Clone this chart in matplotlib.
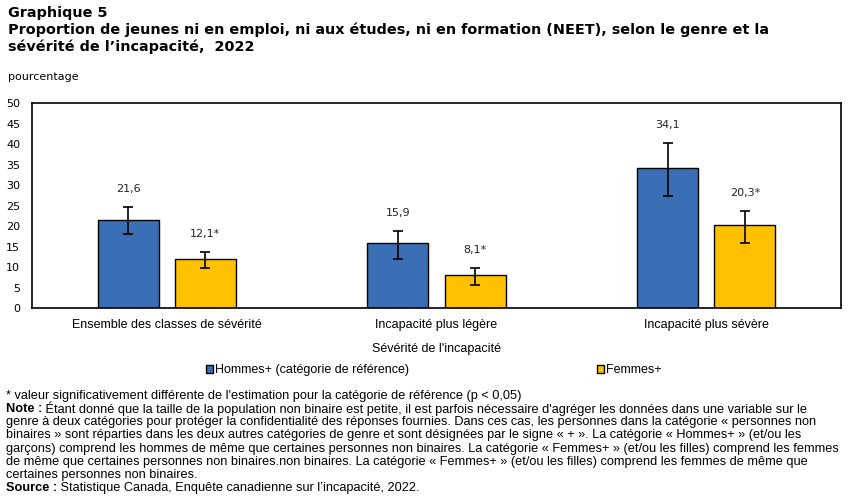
import matplotlib
matplotlib.use("Agg")
import matplotlib.pyplot as plt
import numpy as np

# data
categories = ["Ensemble des classes de sévérité",
              "Incapacité plus légère",
              "Incapacité plus sévère"]
hommes = [21.6, 15.9, 34.1]
hommes_low = [18.0, 11.9, 27.5]
hommes_high = [24.6, 18.9, 40.2]
femmes = [12.1, 8.1, 20.3]
femmes_low = [9.9, 5.8, 16.0]
femmes_high = [13.8, 9.9, 23.8]
femmes_signif = [True, True, True]
yticks = list(range(0, 51, 5))

blue = "#3B6FB5"
yellow = "#FFC000"

fig = plt.figure(figsize=(8.51, 4.99), dpi=100)
ax = fig.add_axes([0.0376, 0.3822, 0.9507, 0.4108])

x = np.arange(len(categories))
w = 0.226
off = 0.143

h = np.array(hommes)
f = np.array(femmes)
h_err = [h - np.array(hommes_low), np.array(hommes_high) - h]
f_err = [f - np.array(femmes_low), np.array(femmes_high) - f]

ax.bar(x - off, h, w, color=blue, edgecolor="black", linewidth=1,
       yerr=h_err, capsize=3.5, error_kw={"elinewidth": 1.2, "capthick": 1.2},
       label="Hommes+ (catégorie de référence)")
ax.bar(x + off, f, w, color=yellow, edgecolor="black", linewidth=1,
       yerr=f_err, capsize=3.5, error_kw={"elinewidth": 1.2, "capthick": 1.2},
       label="Femmes+")

# value labels above the error bars
for i in range(len(categories)):
    ax.annotate(("%.1f" % hommes[i]).replace(".", ","), (x[i] - off, hommes_high[i]),
                xytext=(0, 13), textcoords="offset points", ha="center", va="center",
                fontsize=8, family="DejaVu Sans", color="#222222")
    lab = ("%.1f" % femmes[i]).replace(".", ",") + ("*" if femmes_signif[i] else "")
    ax.annotate(lab, (x[i] + off, femmes_high[i]),
                xytext=(0, 13), textcoords="offset points", ha="center", va="center",
                fontsize=8, family="DejaVu Sans", color="#222222")

ax.set_xlim(-0.5, 2.5)
ax.set_ylim(0, 50)
ax.set_yticks(yticks)
ax.set_yticklabels([str(t) for t in yticks], fontsize=8, family="DejaVu Sans")
ax.set_xticks(x)
ax.set_xticklabels(categories, fontsize=9, family="Liberation Sans")
ax.tick_params(length=0, pad=8)
ax.tick_params(axis="y", pad=8.5)
for s in ax.spines.values():
    s.set_linewidth(1.2)
ax.set_xlabel("Sévérité de l'incapacité", fontsize=9, family="Liberation Sans", labelpad=8)

fig.legend(loc="center", bbox_to_anchor=(0.510, 0.258), ncol=2, frameon=False,
           prop={"family": "Liberation Sans", "size": 9}, handlelength=0.55,
           handleheight=0.55, handletextpad=0.2, columnspacing=15)

# titles
fig.text(0.009, 0.988, "Graphique 5\nProportion de jeunes ni en emploi, ni aux études, ni en formation (NEET), selon le genre et la\nsévérité de l\u2019incapacité,  2022",
         ha="left", va="top", fontsize=10.4, fontweight="bold", family="DejaVu Sans",
         linespacing=1.2)
fig.text(0.009, 0.845, "pourcentage", ha="left", va="center", fontsize=8, family="DejaVu Sans")

# footnotes
fs = 9.15
fam = "Liberation Sans"
lines = [
    ("", "* valeur significativement différente de l'estimation pour la catégorie de référence (p < 0,05)"),
    ("Note :", " Étant donné que la taille de la population non binaire est petite, il est parfois nécessaire d'agréger les données dans une variable sur le"),
    ("", "genre à deux catégories pour protéger la confidentialité des réponses fournies. Dans ces cas, les personnes dans la catégorie « personnes non"),
    ("", "binaires » sont réparties dans les deux autres catégories de genre et sont désignées par le signe « + ». La catégorie « Hommes+ » (et/ou les"),
    ("", "garçons) comprend les hommes de même que certaines personnes non binaires. La catégorie « Femmes+ » (et/ou les filles) comprend les femmes"),
    ("", "de même que certaines personnes non binaires.non binaires. La catégorie « Femmes+ » (et/ou les filles) comprend les femmes de même que"),
    ("", "certaines personnes non binaires."),
    ("Source :", " Statistique Canada, Enquête canadienne sur l\u2019incapacité, 2022."),
]
y0 = 396
for k, (bold, rest) in enumerate(lines):
    ypix = y0 + k * 13.15
    yf = 1 - ypix / 499
    t = fig.text(0.007, yf, bold, ha="left", va="center", fontsize=fs, family=fam, fontweight="bold")
    if bold:
        fig.canvas.draw()
        bb = t.get_window_extent()
        xs = bb.x1 / fig.bbox.width
    else:
        xs = 0.007
    fig.text(xs, yf, rest, ha="left", va="center", fontsize=fs, family=fam)

fig.savefig("out.png", dpi=100)
